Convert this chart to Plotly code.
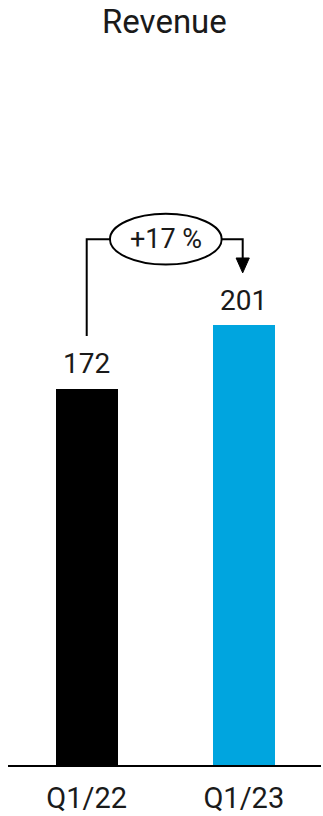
import plotly.graph_objects as go

categories = ["Q1/22", "Q1/23"]
values = [172, 201]
value_labels = ["172", "201"]
change_label = "+17 %"
title_text = "Revenue"
bar_colors = ["#000000", "#00A5DF"]

FONT = "Roboto"
W = 400
TXT = "#1a1a1a"
x = list(range(len(categories)))

fig = go.Figure()
fig.add_trace(go.Bar(
    x=x, y=values, width=0.393,
    marker=dict(color=bar_colors, line=dict(width=0)),
    hoverinfo="skip", showlegend=False,
))

# value labels
for xi, v, lab in zip(x, values, value_labels):
    fig.add_annotation(x=xi, y=v, text=lab, showarrow=False,
                       yanchor="middle", yshift=25,
                       font=dict(family=FONT, size=28, color=TXT, weight=W))

# bracket with percentage change
y_br = max(values) + 39.3
y_left_start = values[0] + 24.1
ell_x0, ell_x1 = x[0] + 0.148, x[0] + 0.859
ell_h = 11.6
right_x = x[1] - 0.007
arrow_top = max(values) + 30.7
arrow_tip = max(values) + 23.9
aw = 0.042
line = dict(color="#000", width=2)

fig.add_shape(type="path",
              path=f"M {x[0]},{y_left_start} L {x[0]},{y_br} L {ell_x0},{y_br}",
              line=line, xref="x", yref="y")
fig.add_shape(type="circle", x0=ell_x0, x1=ell_x1, y0=y_br - ell_h, y1=y_br + ell_h,
              line=line, fillcolor="white", xref="x", yref="y")
fig.add_shape(type="path",
              path=f"M {ell_x1},{y_br} L {right_x},{y_br} L {right_x},{arrow_top}",
              line=line, xref="x", yref="y")
fig.add_shape(type="path",
              path=f"M {right_x-aw},{arrow_top} L {right_x+aw},{arrow_top} L {right_x},{arrow_tip} Z",
              line=dict(color="#000", width=1), fillcolor="#000", xref="x", yref="y")
fig.add_annotation(x=(ell_x0 + ell_x1) / 2, y=y_br, text=change_label, showarrow=False,
                   yanchor="middle", font=dict(family=FONT, size=27, color=TXT, weight=W))

# title
fig.add_annotation(x=0.5, xref="paper", y=1, yref="paper", yshift=-21,
                   text=title_text, showarrow=False, yanchor="middle",
                   font=dict(family=FONT, size=33, color=TXT, weight=W))

fig.update_layout(
    width=323, height=816,
    margin=dict(l=8, r=2, t=0, b=51),
    paper_bgcolor="white", plot_bgcolor="white",
    xaxis=dict(range=[-0.501, 1.4914], tickvals=x, ticktext=categories,
               showline=True, linecolor="#000", linewidth=2,
               showgrid=False, zeroline=False, ticks="", ticklabelstandoff=6,
               tickfont=dict(family=FONT, size=29, color=TXT, weight=W), fixedrange=True),
    yaxis=dict(range=[0, 349.6], visible=False, fixedrange=True),
    bargap=0,
)

fig.write_html("out.html", config={"displayModeBar": False})
